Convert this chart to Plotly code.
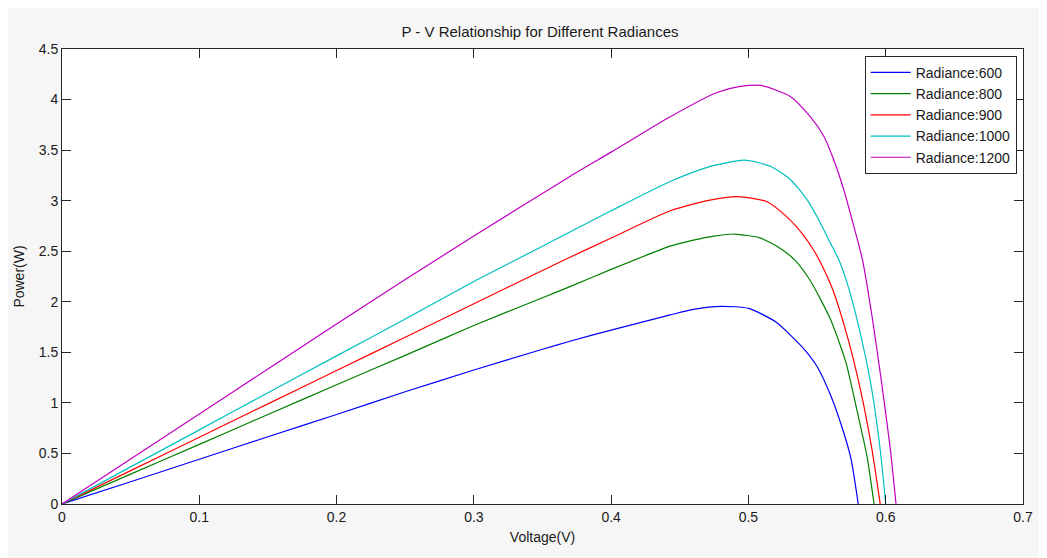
import plotly.graph_objects as go

# voltage (V) / power (W) readings per irradiance level
v600 = [0, 0.05, 0.1, 0.15, 0.2, 0.25, 0.3, 0.35, 0.37, 0.4, 0.443, 0.46, 0.48, 0.5, 0.52, 0.54, 0.55, 0.56, 0.57, 0.575, 0.58]
p600 = [0, 0.22, 0.443, 0.665, 0.885, 1.11, 1.325, 1.53, 1.61, 1.72, 1.87, 1.925, 1.955, 1.935, 1.80, 1.54, 1.36, 1.07, 0.68, 0.43, 0]

v800 = [0, 0.05, 0.1, 0.15, 0.2, 0.25, 0.3, 0.35, 0.37, 0.4, 0.443, 0.46, 0.475, 0.49, 0.509, 0.523, 0.534, 0.545, 0.56, 0.571, 0.579, 0.5864, 0.5915]
p800 = [0, 0.295, 0.59, 0.885, 1.18, 1.47, 1.765, 2.04, 2.15, 2.32, 2.55, 2.61, 2.65, 2.67, 2.63, 2.53, 2.41, 2.21, 1.82, 1.40, 0.93, 0.47, 0]

v900 = [0, 0.05, 0.1, 0.15, 0.2, 0.25, 0.3, 0.35, 0.37, 0.4, 0.443, 0.47, 0.492, 0.5136, 0.528, 0.54, 0.548, 0.555, 0.562, 0.572, 0.5816, 0.59, 0.596]
p900 = [0, 0.33, 0.66, 0.99, 1.32, 1.65, 1.98, 2.31, 2.44, 2.63, 2.90, 3.00, 3.04, 2.99, 2.84, 2.66, 2.50, 2.32, 2.10, 1.66, 1.13, 0.537, 0]

v1000 = [0, 0.05, 0.1, 0.15, 0.2, 0.25, 0.3, 0.35, 0.37, 0.4, 0.443, 0.47, 0.497, 0.516, 0.5305, 0.5427, 0.5524, 0.5597, 0.5657, 0.5727, 0.579, 0.589, 0.596, 0.6]
p1000 = [0, 0.367, 0.733, 1.10, 1.465, 1.83, 2.20, 2.55, 2.69, 2.90, 3.19, 3.33, 3.40, 3.34, 3.21, 3.01, 2.78, 2.58, 2.42, 2.15, 1.83, 1.20, 0.537, 0]

v1200 = [0, 0.05, 0.1, 0.15, 0.2, 0.25, 0.3, 0.37, 0.4, 0.443, 0.477, 0.494, 0.509, 0.5305, 0.545, 0.5548, 0.562, 0.5694, 0.5767, 0.583, 0.59, 0.597, 0.6034, 0.6075]
p1200 = [0, 0.445, 0.89, 1.335, 1.78, 2.22, 2.65, 3.24, 3.48, 3.83, 4.07, 4.13, 4.14, 4.03, 3.83, 3.64, 3.41, 3.11, 2.75, 2.42, 1.86, 1.20, 0.537, 0]

series = [
    ("Radiance:600", v600, p600, "#0000ff"),
    ("Radiance:800", v800, p800, "#008000"),
    ("Radiance:900", v900, p900, "#ff0000"),
    ("Radiance:1000", v1000, p1000, "#00bfbf"),
    ("Radiance:1200", v1200, p1200, "#bf00bf"),
]

x_ticks = [0, 0.1, 0.2, 0.3, 0.4, 0.5, 0.6, 0.7]
y_ticks = [0, 0.5, 1, 1.5, 2, 2.5, 3, 3.5, 4, 4.5]

FONT = 'Liberation Sans, Arial'
TXT = '#1a1a1a'

fig = go.Figure()
for name, v, p, color in series:
    fig.add_trace(go.Scatter(x=v, y=p, mode='lines', name=name,
                             line=dict(color=color, width=1.2, shape='spline', smoothing=0.6)))

axis_style = dict(showline=True, linecolor='#262626', linewidth=1, mirror='ticks',
                  ticks='inside', ticklen=9, tickcolor='#262626', showgrid=False,
                  zeroline=False, tickfont=dict(family=FONT, size=14, color=TXT))

# page body adds an 8px margin, so the figure is sized to the rest of the window
fig.update_layout(
    width=1039, height=550,
    margin=dict(l=54, r=24, t=41, b=54),
    paper_bgcolor='#f6f6f6', plot_bgcolor='white',
    title=dict(text='P - V Relationship for Different Radiances', x=0.512, xanchor='center',
               y=0.956, yanchor='middle',
               font=dict(family=FONT, size=15, color=TXT)),
    xaxis=dict(range=[0, 0.7], tickvals=x_ticks, ticktext=[str(t) for t in x_ticks],
               title=dict(text='Voltage(V)', standoff=8,
                          font=dict(family=FONT, size=14, color=TXT)),
               **axis_style),
    yaxis=dict(range=[0, 4.5], tickvals=y_ticks, ticktext=[str(t) for t in y_ticks],
               title=dict(text='Power(W)', standoff=10,
                          font=dict(family=FONT, size=14, color=TXT)),
               **axis_style),
    legend=dict(x=0.9934, y=0.985, xanchor='right', yanchor='top',
                bgcolor='white', bordercolor='#262626', borderwidth=1,
                font=dict(family=FONT, size=14, color=TXT),
                tracegroupgap=0, itemwidth=40),
    showlegend=True,
)

fig.write_html("out.html")
